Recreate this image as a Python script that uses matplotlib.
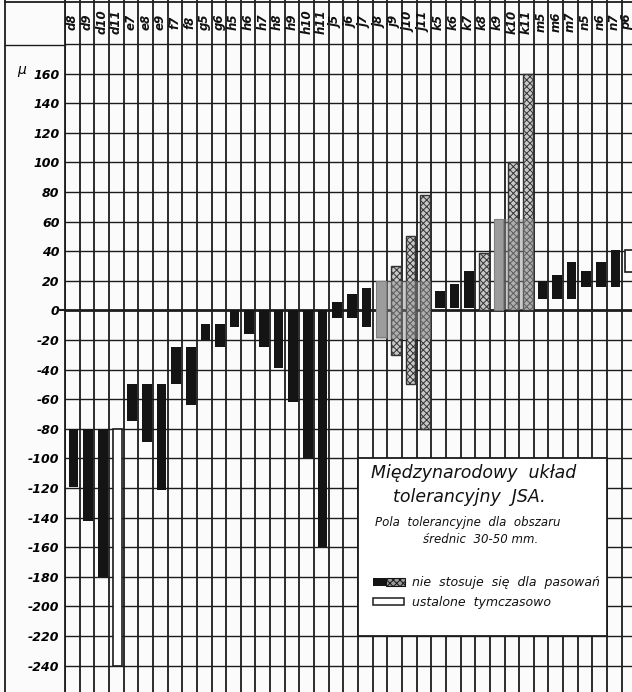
import matplotlib.pyplot as plt
from matplotlib.lines import Line2D
from matplotlib.patches import Rectangle
import numpy as np

# pola tolerancyjne wałków, średnice 30-50 mm (w mikronach)
labels = ["d8", "d9", "d10", "d11", "e7", "e8", "e9", "f7", "f8", "g5", "g6",
          "h5", "h6", "h7", "h8", "h9", "h10", "h11",
          "j5", "j6", "j7", "j8", "j9", "j10", "j11",
          "k5", "k6", "k7", "k8", "k9", "k10", "k11",
          "m5", "m6", "m7", "n5", "n6", "n7", "p6"]
upper = [-80, -80, -80, -80, -50, -50, -50, -25, -25, -9, -9,
         0, 0, 0, 0, 0, 0, 0,
         6, 11, 15, 20, 30, 50, 78,
         13, 18, 27, 39, 62, 100, 160,
         20, 24, 33, 27, 33, 41, 41]
lower = [-119, -142, -180, -240, -75, -89, -121, -50, -64, -20, -25,
         -11, -16, -25, -39, -62, -100, -160,
         -5, -5, -11, -18, -30, -50, -80,
         2, 2, 2, 0, 0, 0, 0,
         8, 8, 8, 16, 16, 16, 26]
# b = zwykłe, h = nie stosuje się dla pasowań, g = szare, o = ustalone tymczasowo
kind = ["b", "b", "b", "o", "b", "b", "b", "b", "b", "b", "b",
        "b", "b", "b", "b", "b", "b", "b",
        "b", "b", "b", "g", "h", "h", "h",
        "b", "b", "b", "h", "g", "h", "h",
        "b", "b", "b", "b", "b", "b", "o"]
shade = [("j8", "j11", -19, 20), ("k9", "k11", 0, 62)]
yticks = np.arange(-240, 161, 20)

plt.rcParams['font.family'] = 'DejaVu Sans'
plt.rcParams['hatch.linewidth'] = 0.7
plt.rcParams['hatch.color'] = '#2a2a2a'

ink = '#1c1c1c'
paper = '#fbfbfb'

fig = plt.figure(figsize=(6.32, 6.92), dpi=100)
fig.patch.set_facecolor(paper)
ax = fig.add_axes([65 / 632, 0, 567 / 632, 1])
ax.set_facecolor(paper)
ax.set_xlim(0, 38.7)
ax.set_ylim(-257.8, 209.8)

# siatka
for i in range(39):
    ax.axvline(i, color=ink, lw=1.3, zorder=1)
for v in range(-240, 181, 20):
    ax.axhline(v, color=ink, lw=2.0 if v == 0 else 1.0, zorder=1)
ax.plot([-0.5, 0], [0, 0], color=ink, lw=1.5, clip_on=False)

# pola tolerancyjne
x = np.arange(len(labels)) + 0.58
w = 0.66
for xi, lo, hi, k in zip(x, lower, upper, kind):
    if k == "b":
        ax.bar(xi, hi - lo, bottom=lo, width=w, color='#141414', zorder=2)
    elif k == "o":
        ax.bar(xi, hi - lo, bottom=lo, width=w, facecolor='white',
               edgecolor=ink, lw=1.2, zorder=2)
    elif k == "h":
        ax.bar(xi, hi - lo, bottom=lo, width=w, facecolor='#c8c8c8',
               edgecolor='#333333', lw=1.0, hatch='xxxxx', zorder=2)
    else:
        ax.bar(xi, hi - lo, bottom=lo, width=w, facecolor='#a8a8a8',
               edgecolor='#777777', lw=0.8, zorder=2)

for a, b, lo, hi in shade:
    i0, i1 = labels.index(a), labels.index(b)
    left = x[i0] - w / 2
    right = x[i1] + w / 2 + 0.1
    ax.bar((left + right) / 2, hi - lo, bottom=lo, width=right - left,
           color='#8f8f8f', alpha=0.45, lw=0, zorder=2.5)

# nagłówek z oznaczeniami
for i, lab in enumerate(labels):
    xl = min(i + 0.5, 38.3)
    ax.text(xl, 195, lab, rotation=90, ha='center', va='center',
            style='italic', fontweight='bold', fontsize=8.5, color='#111111')

ax.set_xticks([])
ax.set_yticks(yticks)
ax.set_yticklabels([str(v) for v in yticks])
ax.tick_params(axis='y', length=0, pad=4, labelsize=9)
for t in ax.get_yticklabels():
    t.set_style('italic')
    t.set_fontweight('bold')
for s in ['right', 'bottom', 'top']:
    ax.spines[s].set_visible(False)
ax.spines['left'].set_color(ink)
ax.spines['left'].set_linewidth(1.3)

fig.text(22 / 632, 1 - 70 / 692, 'µ', style='italic', fontsize=10,
         ha='center', va='center')

# ramka rysunku
fig.add_artist(Line2D([5 / 632, 5 / 632], [0, 1], transform=fig.transFigure,
                      color=ink, lw=1.3))
fig.add_artist(Line2D([5 / 632, 1], [1 - 1.5 / 692] * 2, transform=fig.transFigure,
                      color=ink, lw=1.3))
fig.add_artist(Line2D([5 / 632, 65 / 632], [1 - 45 / 692] * 2,
                      transform=fig.transFigure, color=ink, lw=1.0))

# opis
ax.add_patch(Rectangle((20, -220), 17, 120, facecolor='white', edgecolor=ink,
                       lw=1.3, zorder=3))
txt = dict(style='italic', color='#111111', zorder=4, ha='center', va='center')
ax.text(27.9, -110, 'Międzynarodowy  układ', fontsize=12.5, **txt)
ax.text(27.6, -126, 'tolerancyjny  JSA.', fontsize=12.5, **txt)
ax.text(27.5, -143, 'Pola  tolerancyjne  dla  obszaru', fontsize=8.5, **txt)
ax.text(28.4, -154.5, 'średnic  30-50 mm.', fontsize=8.5, **txt)

ax.add_patch(Rectangle((21.0, -186), 0.9, 5.5, facecolor='#141414', lw=0, zorder=4))
ax.add_patch(Rectangle((21.9, -186), 1.3, 5.5, facecolor='#9a9a9a',
                       edgecolor='#141414', lw=0.8, hatch='xxxxx', zorder=4))
ax.add_patch(Rectangle((21.05, -199), 2.1, 5, facecolor='white', edgecolor=ink,
                       lw=1.1, zorder=4))
ax.text(23.7, -183.5, 'nie  stosuje  się  dla  pasowań', fontsize=9,
        **dict(txt, ha='left'))
ax.text(23.7, -197, 'ustalone  tymczasowo', fontsize=9, **dict(txt, ha='left'))

fig.savefig('out.png', dpi=100, facecolor=paper)
